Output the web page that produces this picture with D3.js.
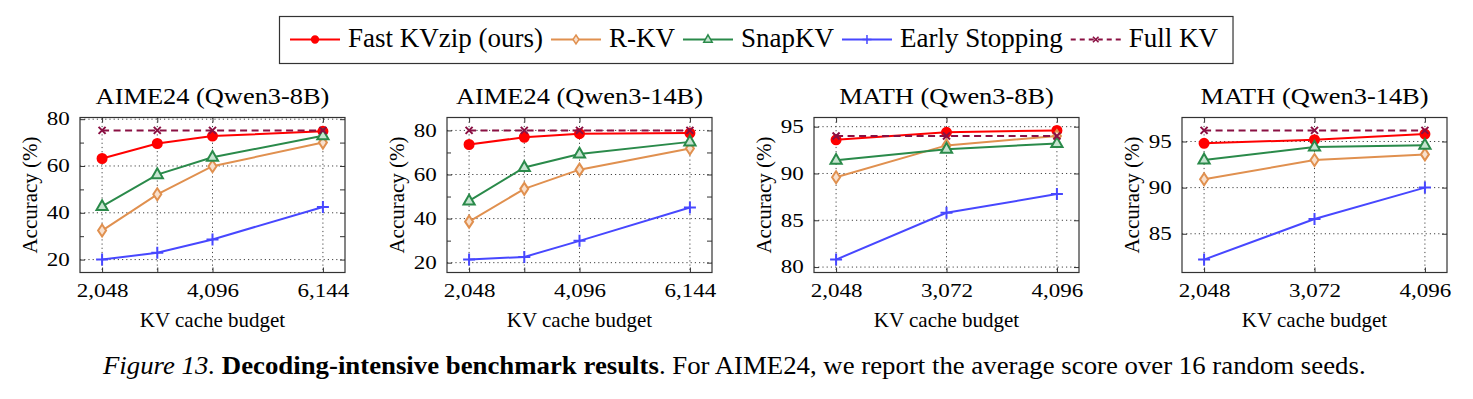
<!DOCTYPE html>
<html>
<head>
<meta charset="utf-8">
<script src="https://cdn.jsdelivr.net/npm/d3@7"></script>
<style>
  body { margin: 0; background: #fff; }
  svg { display: block; }
  text { font-family: "Liberation Serif", "Times New Roman", serif; fill: #000; }
</style>
</head>
<body>
<svg id="fig" width="1473" height="399"></svg>
<script>
// ---- data ----
const methods = ["Fast KVzip (ours)", "R-KV", "SnapKV", "Early Stopping", "Full KV"];

const budgetsAime = [2048, 3072, 4096, 6144];
const budgetsMath = [2048, 3072, 4096];
const labelsAime = [2048, 4096, 6144];
const labelsMath = [2048, 3072, 4096];

const yTicksAime = [20, 40, 60, 80];
const yMinorAime = [30, 50, 70];
const yTicksMath8 = [80, 85, 90, 95];
const yTicksMath14 = [85, 90, 95];

// one row per method, same order as `methods`
const aime8B = [
  [63.2, 69.6, 72.8, 74.8],
  [32.4, 47.9, 59.9, 70.0],
  [42.7, 56.3, 63.7, 72.9],
  [20.0, 22.9, 28.6, 42.5],
  [75.2, 75.2, 75.2, 75.2]
];
const aime14B = [
  [73.6, 76.9, 78.5, 78.8],
  [38.6, 53.5, 62.2, 71.8],
  [48.0, 63.2, 69.3, 74.8],
  [21.4, 22.6, 29.9, 45.0],
  [80.0, 80.0, 80.0, 80.0]
];
const math8B = [
  [93.6, 94.4, 94.6],
  [89.6, 93.0, 94.0],
  [91.4, 92.6, 93.2],
  [80.8, 85.8, 87.8],
  [94.0, 94.0, 94.0]
];
const math14B = [
  [94.8, 95.2, 95.8],
  [90.9, 93.0, 93.6],
  [93.0, 94.4, 94.6],
  [82.2, 86.6, 90.0],
  [96.2, 96.2, 96.2]
];

const panels = [
  { title: "AIME24 (Qwen3-8B)", budgets: budgetsAime, labels: labelsAime, yTicks: yTicksAime, yMinor: yMinorAime, series: aime8B },
  { title: "AIME24 (Qwen3-14B)", budgets: budgetsAime, labels: labelsAime, yTicks: yTicksAime, yMinor: yMinorAime, series: aime14B },
  { title: "MATH (Qwen3-8B)", budgets: budgetsMath, labels: labelsMath, yTicks: yTicksMath8, yMinor: [], series: math8B },
  { title: "MATH (Qwen3-14B)", budgets: budgetsMath, labels: labelsMath, yTicks: yTicksMath14, yMinor: [], series: math14B }
];

// ---- styles ----
const colors = ["#ff0000", "#e0904f", "#2a8a4a", "#4747ff", "#8a1043"];
const fills = ["#ff0000", "#f8e0cd", "#c6e4d0", "none", "none"];
const dashes = [null, null, null, null, "7,4.5"];

function markerPath(k) {
	switch (k) {
		case 0: return d3.symbol(d3.symbolCircle, 64)();
		case 1: return "M0,-6L4,0L0,6L-4,0Z";
		case 2: return "M0,-6.3L5.6,3.5L-5.6,3.5Z";
		case 3: return "M-6,0H6M0,-6V6";
		default: return "M-3.5,-3.5L3.5,3.5M-3.5,3.5L3.5,-3.5";
	}
}

const svg = d3.select("#fig");

/* -------------------- legend ---------------------- */
const legend = svg.append("g");
let lx = 290;
methods.forEach((name, k) => {
	const item = legend.append("g");
	item.append("line")
		.attr("x1", lx).attr("x2", lx + 50).attr("y1", 39.5).attr("y2", 39.5)
		.attr("stroke", colors[k]).attr("stroke-width", 2)
		.attr("stroke-dasharray", k === 4 ? "5,4" : null);
	item.append("path")
		.attr("d", markerPath(k))
		.attr("transform", `translate(${lx + 25},39.5) scale(${k === 4 ? 0.8 : 0.75})`)
		.attr("fill", fills[k]).attr("stroke", colors[k]).attr("stroke-width", 2);
	const t = item.append("text")
		.attr("x", lx + 58).attr("y", 47)
		.style("font-size", "27px")
		.text(name);
	lx += 58 + t.node().getComputedTextLength() + 8;
});
legend.insert("rect", ":first-child")
	.attr("x", 279.5).attr("y", 16.5)
	.attr("width", lx + 7 - 279.5).attr("height", 47)
	.attr("fill", "#fff").attr("stroke", "#333").attr("stroke-width", 1.2);

/* -------------------- panels ---------------------- */
const lefts = [80, 447, 814, 1182];
const plotTop = 117.5, W = 265, H = 155;

panels.forEach((p, i) => {
	const g = svg.append("g").attr("transform", `translate(${lefts[i]},${plotTop})`);

	const xr = d3.extent(p.budgets), xpad = (xr[1] - xr[0]) * 0.1;
	const x = d3.scaleLinear().domain([xr[0] - xpad, xr[1] + xpad]).range([0, W]);
	const yr = d3.extent(p.series.flat()), ypad = (yr[1] - yr[0]) * 0.1;
	const y = d3.scaleLinear().domain([yr[0] - ypad, yr[1] + ypad]).range([H, 0]);

	// dotted grid
	g.append("g").selectAll("line").data(p.budgets).join("line")
		.attr("x1", d => x(d)).attr("x2", d => x(d)).attr("y1", 0).attr("y2", H)
		.attr("stroke", "#444").attr("stroke-width", 1).attr("stroke-dasharray", "1.2,3");
	g.append("g").selectAll("line").data(p.yTicks).join("line")
		.attr("x1", 0).attr("x2", W).attr("y1", d => y(d)).attr("y2", d => y(d))
		.attr("stroke", "#444").attr("stroke-width", 1).attr("stroke-dasharray", "1.2,3");

	// axes (ticks inside, mirrored)
	const fmt = d => p.labels.includes(d) ? d3.format(",")(d) : "";
	const xAxis = g.append("g").attr("transform", `translate(0,${H})`)
		.call(d3.axisBottom(x).tickValues(p.budgets).tickSize(-5).tickPadding(12).tickFormat(fmt));
	g.append("g").call(d3.axisTop(x).tickValues(p.budgets).tickSize(-5).tickFormat(""));
	const yAxis = g.append("g")
		.call(d3.axisLeft(y).tickValues(p.yTicks).tickSize(-5).tickPadding(8));
	g.append("g").call(d3.axisLeft(y).tickValues(p.yMinor).tickSize(-4).tickFormat(""));
	g.append("g").attr("transform", `translate(${W},0)`)
		.call(d3.axisRight(y).tickValues(p.yTicks.concat(p.yMinor)).tickSize(-5).tickFormat(""));

	g.selectAll(".domain").remove();
	g.selectAll(".tick line").attr("stroke", "#333").attr("stroke-width", 1);
	[xAxis, yAxis].forEach(a => a.selectAll("text")
		.attr("font-family", null)
		.style("font-size", "18px")
		.attr("transform", "scale(1.28,1)"));

	// series
	p.series.forEach((vals, k) => {
		const pts = vals.map((v, j) => [p.budgets[j], v]);
		g.append("path")
			.datum(pts)
			.attr("d", d3.line().x(d => x(d[0])).y(d => y(d[1])))
			.attr("fill", "none").attr("stroke", colors[k]).attr("stroke-width", 2)
			.attr("stroke-dasharray", dashes[k]);
		g.append("g").selectAll("path").data(pts).join("path")
			.attr("d", markerPath(k))
			.attr("transform", d => `translate(${x(d[0])},${y(d[1])})`)
			.attr("fill", fills[k]).attr("stroke", colors[k]).attr("stroke-width", 2);
	});

	// frame
	g.append("rect").attr("width", W).attr("height", H)
		.attr("fill", "none").attr("stroke", "#333").attr("stroke-width", 1.2);

	// labels
	g.append("text")
		.attr("transform", `translate(${W / 2},-13.5) scale(1.1,1)`)
		.attr("text-anchor", "middle").style("font-size", "24px")
		.text(p.title);
	g.append("text")
		.attr("x", W / 2).attr("y", 209.2)
		.attr("text-anchor", "middle").style("font-size", "21px")
		.text("KV cache budget");
	g.append("text")
		.attr("transform", `translate(-43,${H / 2}) rotate(-90)`)
		.attr("text-anchor", "middle").style("font-size", "21px")
		.text("Accuracy (%)");
});

/* -------------------- caption ---------------------- */
const cap = svg.append("text").attr("x", 0).attr("y", 0).style("font-size", "25px");
cap.append("tspan").style("font-style", "italic").text("Figure 13.");
cap.append("tspan").style("font-weight", "bold").text(" Decoding-intensive benchmark results");
cap.append("tspan").text(". For AIME24, we report the average score over 16 random seeds.");
const capW = cap.node().getComputedTextLength();
cap.attr("transform", `translate(103,374) scale(${1263 / capW},1)`);
</script>
</body>
</html>
